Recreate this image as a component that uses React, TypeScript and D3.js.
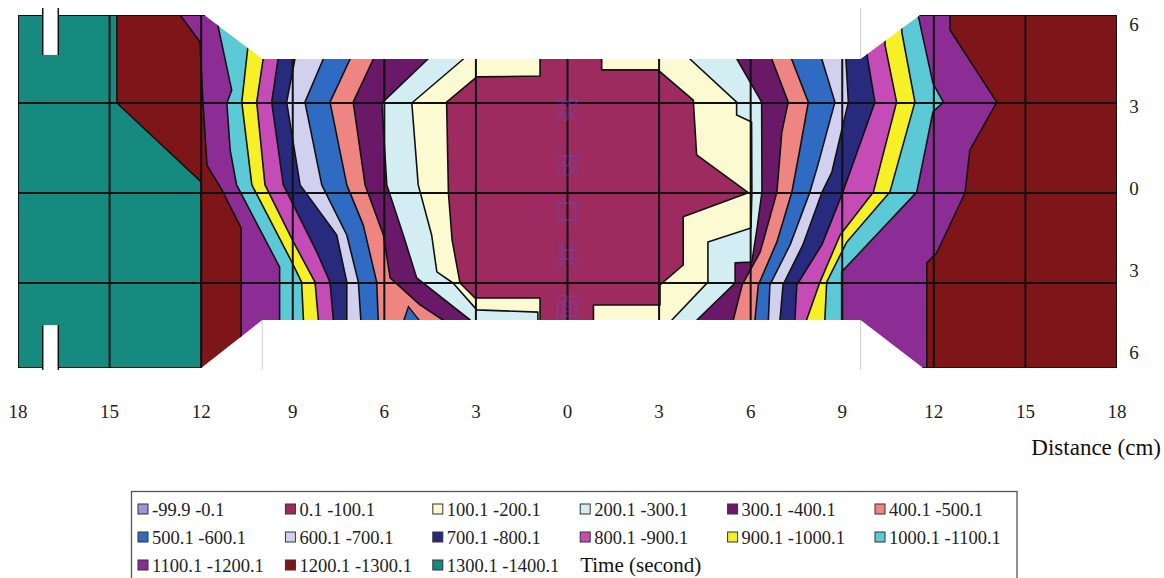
import React from "react";
import * as d3 from "d3";

type Pt = [number, number];

// contour levels (seconds)
const levels = [100, 200, 300, 400, 500, 600, 700, 800, 900, 1000, 1100, 1200, 1300];

const legendLabels = [
  "-99.9 -0.1", "0.1 -100.1", "100.1 -200.1", "200.1 -300.1", "300.1 -400.1", "400.1 -500.1",
  "500.1 -600.1", "600.1 -700.1", "700.1 -800.1", "800.1 -900.1", "900.1 -1000.1", "1000.1 -1100.1",
  "1100.1 -1200.1", "1200.1 -1300.1", "1300.1 -1400.1",
];

const bandColors = [
  "#9b96dc", "#9d2b5f", "#fcfad0", "#d3eef3", "#6a1868", "#ef8580", "#2f6bc3", "#d2d0ef",
  "#272a7d", "#c54cb7", "#f6f027", "#5ccad6", "#8b2d95", "#7e1518", "#178a80",
];

const xTicks = [-18, -15, -12, -9, -6, -3, 0, 3, 6, 9, 12, 15, 18];
const yTicks = [6, 3, 0, -3, -6];

// contour lines on the left half (x < 0), levels 100 .. 1300, [distance x, distance y] in cm
const leftContours: Pt[][] = [
  [[-0.9, 4.5], [-0.9, 3.92], [-2.97, 3.89], [-3.96, 3.03], [-3.9, 0], [-3.78, -1.57], [-3.52, -3], [-3.03, -3.61], [-0.9, -3.61], [-0.9, -4.66]],
  [[-3.41, 4.5], [-5.1, 3], [-4.89, 0.27], [-4.45, -1.4], [-4.28, -2.63], [-3.75, -3], [-2.97, -4.09], [-0.97, -4.18], [-0.97, -4.66]],
  [[-4.57, 4.5], [-5.88, 3.2], [-6.08, 3], [-5.92, 0.27], [-5.38, -1.4], [-4.94, -2.83], [-3.19, -4.5]],
  [[-6.36, 4.5], [-7.02, 3.03], [-6.63, 0.27], [-6.03, -1.4], [-5.81, -2.83], [-4.83, -3.89], [-4.08, -4.5]],
  [[-7.12, 4.5], [-7.78, 3.03], [-7.23, 0.27], [-6.69, -1.07], [-6.25, -2.97], [-6.2, -4.5]],
  [[-8.0, 4.5], [-8.6, 3.03], [-8.05, 0.27], [-7.23, -1.4], [-6.85, -2.97], [-6.77, -4.5]],
  [[-8.93, 4.5], [-9.2, 3.03], [-8.76, 0.27], [-7.56, -1.4], [-7.23, -2.97], [-7.23, -4.5]],
  [[-9.48, 4.5], [-9.69, 3.03], [-9.31, 0.27], [-8.21, -1.97], [-7.78, -2.97], [-7.67, -4.5]],
  [[-9.97, 4.5], [-10.18, 3.03], [-9.91, 0.27], [-8.98, -1.63], [-8.27, -2.97], [-8.16, -4.5]],
  [[-10.47, 4.91], [-10.67, 3.03], [-10.34, 0.27], [-9.03, -2.3], [-8.71, -2.97], [-8.65, -4.5]],
  [[-11.49, 5.83], [-11.0, 3.44], [-11.16, 3], [-11.05, 1.43], [-10.84, 0.27], [-9.43, -2.47], [-9.43, -4.5]],
  [[-12.69, 6], [-12.04, 5.08], [-11.94, 3], [-11.81, 0.93], [-11.32, 0.1], [-10.69, -1.17], [-10.69, -6]],
  [[-14.76, 6], [-14.76, 3], [-12, 0.37], [-12, -6]],
];

// contour lines on the right half (x > 0), levels 100 .. 1200
const rightContours: Pt[][] = [
  [[1.12, 4.5], [1.12, 4.13], [2.96, 4.13], [4.12, 3.1], [4.23, 1.27], [5.92, 0.01], [3.79, -0.79], [3.79, -2.4], [3.03, -3.08], [3.03, -3.89], [0.85, -3.89], [0.85, -4.66]],
  [[4.01, 4.5], [5.54, 3.03], [5.54, 2.6], [6.03, 2.37], [6.04, 0.03], [6.01, -1.17], [4.6, -1.63], [4.6, -2.97], [3.42, -4.5]],
  [[5.55, 4.5], [6.36, 3.03], [6.37, 0.03], [6.21, -1.17], [6.04, -2.3], [5.49, -2.33], [5.49, -3], [4.24, -4.5]],
  [[6.69, 4.5], [7.23, 3.03], [7.02, 2.03], [6.86, 0.03], [6.31, -1.97], [5.72, -3.08], [5.43, -4.5]],
  [[7.34, 4.5], [7.89, 3.03], [7.62, 1.5], [7.35, 0.03], [6.86, -1.63], [6.25, -3.08], [6.14, -4.5]],
  [[8.33, 4.5], [8.76, 3.03], [8.2, 0.93], [7.94, 0.03], [7.29, -1.73], [6.63, -3.08], [6.58, -4.5]],
  [[9.12, 4.5], [9.2, 3.03], [8.66, 0.7], [8.34, 0.03], [7.71, -1.73], [7.06, -3.08], [6.96, -4.5]],
  [[9.81, 4.64], [10.07, 3.03], [9.02, 0.03], [8.33, -1.73], [7.51, -3.08], [7.45, -4.5]],
  [[10.4, 4.98], [10.78, 3.03], [10.02, 0.03], [8.93, -1.4], [8.27, -2.97], [7.83, -4.5]],
  [[10.95, 5.42], [11.38, 3.03], [10.56, 0.03], [9.15, -1.63], [8.49, -2.97], [8.43, -4.5]],
  [[11.49, 5.97], [11.97, 3.68], [12.31, 3.03], [11.97, 2.7], [11.44, 0.03], [8.98, -2.63], [8.98, -4.5]],
  [[12.53, 6], [12.53, 5.49], [14.06, 3.03], [13.18, 1.43], [13.02, 0], [12.09, -2], [11.77, -2.33], [11.77, -6]],
];

// small 500.1-600.1 island at the lower edge
const blueIsland: Pt[] = [[-5.45, -4.75], [-5.21, -3.96], [-4.66, -4.75]];

// specimen outline
const specimenOutline: Pt[] = [
  [-18, 6], [-11.9, 6], [-10, 4.5], [9.6, 4.5], [11.55, 6], [18, 6],
  [18, -6], [11.65, -6], [9.6, -4.5], [-10, -4.5], [-12, -6], [-18, -6],
];
const notchX: Pt = [-17.19, -16.68];
const notchTopY: Pt = [6.24, 4.64];
const notchBottomY: Pt = [-4.66, -6.06];
const watermark = ["浆", "液", "口", "共", "面"];

const SERIF = "'Liberation Serif', Tinos, 'Times New Roman', Times, 'DejaVu Serif', 'Noto Serif', serif";

export default function App() {
  const W = 1164;
  const H = 578;
  const x = d3.scaleLinear().domain([-18, 18]).range([18, 1117]);
  const y = d3.scaleLinear().domain([6, 3, 0, -3, -4.5, -6]).range([15, 103, 193, 283, 320, 368]);
  const yLab = d3.scaleLinear().domain([6, -6]).range([25, 353]);
  const line = d3.line<Pt>().x((d) => x(d[0])).y((d) => y(d[1]));

  const ext = (p: Pt[]): Pt[] => [[p[0][0], 7.5], ...p, [p[p.length - 1][0], -7.5]];
  const leftEdge: Pt[] = [[-19, 7.5], [-19, -7.5]];
  const rightEdge: Pt[] = [[19, 7.5], [19, -7.5]];
  const seq = [
    { lv: 1400, pts: leftEdge },
    ...leftContours.map((p, i) => ({ lv: levels[i], pts: ext(p) })).reverse(),
    ...rightContours.map((p, i) => ({ lv: levels[i], pts: ext(p) })),
    { lv: 1300, pts: rightEdge },
  ];
  const bands = d3.range(seq.length - 1).map((j) => {
    const a = seq[j];
    const b = seq[j + 1];
    const idx = Math.max(a.lv, b.lv) / 100;
    return { d: line([...a.pts, ...b.pts.slice().reverse()]) + "Z", color: bandColors[idx] };
  });
  const contourPaths = [...leftContours, ...rightContours].map((p) => line(ext(p)) as string);

  const colW = 147.4;
  const legX0 = 143;
  const legY0 = 509;
  const rowH = 28;

  const grey = "#cfcfcf";

  return (
    <svg width={W} height={H} style={{ position: "absolute", left: 0, top: 0, background: "#fff", fontFamily: SERIF }}>
      <defs>
        <clipPath id="spec">
          <path d={line(specimenOutline) + "Z"} />
        </clipPath>
      </defs>

      {/* faint outline guides */}
      <line x1={x(-10)} x2={x(-10)} y1={y(-4.5)} y2={y(-6.05)} stroke={grey} strokeWidth={1} />
      <line x1={x(9.6)} x2={x(9.6)} y1={y(4.5)} y2={y(6.25)} stroke={grey} strokeWidth={1} />
      <line x1={x(9.6)} x2={x(9.6)} y1={y(-4.5)} y2={y(-6.05)} stroke={grey} strokeWidth={1} />

      <g clipPath="url(#spec)">
        {bands.map((b, i) => (
          <path key={i} d={b.d} fill={b.color} stroke="none" />
        ))}
        <path d={line(blueIsland) + "Z"} fill={bandColors[6]} stroke="#111" strokeWidth={1.4} />
        {contourPaths.map((d, i) => (
          <path key={i} d={d} fill="none" stroke="#111" strokeWidth={1.6} strokeLinejoin="round" />
        ))}
        {xTicks.map((t) => (
          <line key={"gx" + t} x1={x(t)} x2={x(t)} y1={y(6)} y2={y(-6)} stroke="#111" strokeWidth={2} />
        ))}
        {yTicks.map((t) => (
          <line key={"gy" + t} x1={x(-18)} x2={x(18)} y1={y(t)} y2={y(t)} stroke="#111" strokeWidth={2} />
        ))}
        {watermark.map((c, i) => (
          <text
            key={c + i}
            x={x(0)}
            y={[119, 174, 222, 266, 316][i]}
            textAnchor="middle"
            fontSize={26}
            style={{ fontFamily: "'Noto Sans CJK SC', sans-serif" }}
            fill="#6a48c0"
            opacity={0.4}
          >
            {c}
          </text>
        ))}
      </g>

      {/* notches */}
      {[notchTopY, notchBottomY].map((ny, i) => (
        <g key={"n" + i}>
          <rect x={x(notchX[0])} y={y(ny[0])} width={x(notchX[1]) - x(notchX[0])} height={y(ny[1]) - y(ny[0])} fill="#fff" />
          <line x1={x(notchX[0])} x2={x(notchX[0])} y1={y(ny[0])} y2={y(ny[1])} stroke="#111" strokeWidth={1.5} />
          <line x1={x(notchX[1])} x2={x(notchX[1])} y1={y(ny[0])} y2={y(ny[1])} stroke="#111" strokeWidth={1.5} />
        </g>
      ))}

      {/* x tick labels */}
      {xTicks.map((t) => (
        <text key={"xl" + t} x={x(t)} y={418} textAnchor="middle" fontSize={19} fill="#222">
          {Math.abs(t)}
        </text>
      ))}
      {/* y tick labels */}
      {yTicks.map((t) => (
        <text key={"yl" + t} x={1134} y={yLab(t) + 6} textAnchor="middle" fontSize={19} fill="#222">
          {Math.abs(t)}
        </text>
      ))}
      <text x={1161} y={455} textAnchor="end" fontSize={23} fill="#111">
        Distance (cm)
      </text>

      {/* legend */}
      <rect x={131.5} y={491.5} width={885.5} height={100} fill="#fff" stroke="#555" strokeWidth={1.3} />
      {legendLabels.map((lab, i) => {
        const cx = legX0 + (i % 6) * colW;
        const cy = legY0 + Math.floor(i / 6) * rowH;
        return (
          <g key={lab}>
            <rect x={cx - 5} y={cy - 5} width={10} height={10} fill={bandColors[i]} stroke="#333" strokeWidth={1} />
            <text x={cx + 9} y={cy + 7} fontSize={18.5} fill="#222">
              {lab}
            </text>
          </g>
        );
      })}
      <text x={legX0 + 3 * colW - 5} y={legY0 + 2 * rowH + 7} fontSize={21} fill="#111">
        Time (second)
      </text>
    </svg>
  );
}
